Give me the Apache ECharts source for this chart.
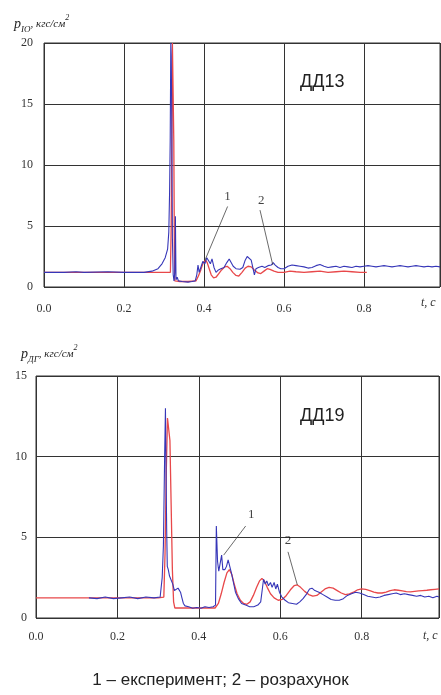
<!DOCTYPE html>
<html>
<head>
<meta charset="utf-8">
<script src="https://cdn.jsdelivr.net/npm/echarts@6/dist/echarts.min.js"></script>
<style>html,body{margin:0;padding:0;background:#fff;}#c{width:441px;height:695px;}</style>
</head>
<body>
<div id="c"></div>
<script>
// ---- data: top chart (ДД13) ----
var topExpT = [0.00,0.05,0.08,0.10,0.16,0.20,0.25,0.27,0.285,0.295,0.303,0.309,0.312,0.314,0.3155,0.317,0.318,0.3195,0.321,0.323,0.325,0.327,0.3285,0.330,0.333,0.336,0.345,0.36,0.37,0.378,0.382,0.385,0.388,0.392,0.397,0.402,0.407,0.412,0.416,0.42,0.425,0.43,0.436,0.442,0.45,0.457,0.463,0.468,0.473,0.48,0.49,0.497,0.503,0.508,0.513,0.518,0.522,0.526,0.53,0.536,0.545,0.552,0.56,0.568,0.573,0.578,0.585,0.592,0.60,0.61,0.62,0.63,0.64,0.65,0.66,0.67,0.68,0.69,0.70,0.71,0.72,0.73,0.74,0.75,0.76,0.77,0.78,0.79,0.80,0.81,0.82,0.83,0.84,0.85,0.86,0.87,0.88,0.89,0.90,0.91,0.92,0.93,0.94,0.95,0.96,0.97,0.98,0.99];
var topExpP = [1.2,1.2,1.25,1.2,1.25,1.2,1.2,1.3,1.5,1.9,2.4,3.1,4.5,7.8,12,20,19,14,4,1.0,0.5,1.2,5.8,0.6,0.8,0.5,0.45,0.4,0.45,0.5,1.0,1.8,1.2,1.6,2.1,1.9,2.4,2.5,1.9,2.3,1.6,1.2,1.4,1.5,1.6,2.0,2.3,2.2,1.7,1.5,1.45,1.6,2.2,2.5,2.6,2.2,1.6,1.0,1.5,1.6,1.7,1.6,1.75,1.8,2.0,1.8,1.6,1.5,1.5,1.7,1.8,1.75,1.7,1.65,1.55,1.6,1.75,1.85,1.7,1.6,1.65,1.7,1.6,1.7,1.65,1.6,1.7,1.65,1.7,1.75,1.7,1.65,1.7,1.75,1.7,1.65,1.7,1.75,1.7,1.65,1.7,1.75,1.7,1.65,1.7,1.65,1.7,1.65];
var topCalcT = [0,0.30,0.316,0.318,0.3195,0.321,0.323,0.3245,0.326,0.327,0.34,0.36,0.38,0.386,0.392,0.398,0.404,0.408,0.413,0.418,0.424,0.43,0.437,0.444,0.452,0.458,0.465,0.472,0.48,0.487,0.495,0.503,0.51,0.518,0.526,0.535,0.542,0.55,0.558,0.565,0.575,0.585,0.60,0.615,0.63,0.65,0.67,0.69,0.71,0.73,0.75,0.77,0.79,0.807];
var topCalcP = [1.2,1.2,1.2,5,12,20,20,12,3,0.5,0.45,0.45,0.5,0.9,1.4,2.0,2.2,2.0,1.5,1.0,0.75,0.8,1.1,1.4,1.65,1.7,1.5,1.2,0.95,0.9,1.2,1.55,1.7,1.65,1.4,1.15,1.1,1.3,1.5,1.45,1.3,1.2,1.2,1.3,1.25,1.2,1.25,1.3,1.2,1.25,1.3,1.25,1.2,1.2];

// ---- data: bottom chart (ДД19) ----
var botExpT = [0.13,0.15,0.17,0.19,0.21,0.23,0.25,0.27,0.29,0.305,0.31,0.313,0.316,0.318,0.3195,0.321,0.3225,0.325,0.328,0.332,0.336,0.34,0.344,0.349,0.352,0.355,0.358,0.362,0.366,0.375,0.385,0.395,0.405,0.415,0.425,0.435,0.441,0.443,0.446,0.449,0.453,0.456,0.459,0.464,0.468,0.472,0.476,0.48,0.485,0.49,0.497,0.505,0.515,0.525,0.535,0.545,0.552,0.556,0.559,0.563,0.567,0.571,0.576,0.58,0.585,0.589,0.593,0.598,0.604,0.612,0.62,0.63,0.64,0.648,0.656,0.665,0.672,0.678,0.685,0.695,0.705,0.715,0.725,0.735,0.745,0.755,0.765,0.775,0.785,0.795,0.805,0.815,0.825,0.835,0.845,0.855,0.865,0.875,0.885,0.895,0.905,0.915,0.925,0.935,0.945,0.955,0.965,0.975,0.985,0.99];
var botExpP = [1.25,1.2,1.3,1.2,1.25,1.3,1.2,1.3,1.25,1.3,2.5,4.5,10,13.0,9,5.5,3.2,3.0,2.6,2.6,2.1,1.7,1.6,1.85,1.95,1.6,1.3,0.9,0.75,0.7,0.6,0.65,0.6,0.7,0.65,0.7,0.8,5.7,3.5,2.9,3.0,3.9,3.0,3.0,3.2,3.6,3.2,2.8,2.2,1.6,1.2,0.9,0.8,0.7,0.7,0.8,1.0,1.8,2.4,2.1,2.3,2.0,2.2,1.9,2.2,1.8,2.1,1.6,1.3,1.1,0.95,0.9,0.85,1.0,1.2,1.5,1.8,1.85,1.7,1.6,1.45,1.3,1.15,1.1,1.1,1.2,1.4,1.5,1.6,1.55,1.45,1.35,1.3,1.25,1.3,1.4,1.45,1.5,1.55,1.45,1.5,1.45,1.4,1.35,1.4,1.3,1.35,1.25,1.35,1.3];
var botCalcT = [0,0.30,0.314,0.317,0.32,0.323,0.326,0.329,0.332,0.335,0.338,0.341,0.36,0.40,0.44,0.448,0.455,0.462,0.469,0.475,0.481,0.487,0.494,0.502,0.51,0.518,0.526,0.534,0.542,0.549,0.555,0.561,0.568,0.576,0.585,0.595,0.605,0.615,0.625,0.634,0.642,0.65,0.66,0.67,0.68,0.69,0.70,0.71,0.72,0.73,0.74,0.75,0.76,0.77,0.78,0.79,0.80,0.81,0.82,0.83,0.84,0.85,0.86,0.87,0.88,0.89,0.90,0.91,0.92,0.93,0.94,0.95,0.96,0.97,0.98,0.99];
var botCalcP = [1.25,1.25,1.3,4,9,12.4,12.4,11,7,3,1.0,0.62,0.62,0.62,0.62,0.9,1.5,2.2,2.8,3.0,2.7,2.1,1.5,1.1,0.9,0.85,1.0,1.4,1.9,2.3,2.45,2.3,1.9,1.5,1.25,1.1,1.15,1.4,1.75,2.0,2.05,1.9,1.65,1.45,1.35,1.4,1.6,1.8,1.9,1.85,1.7,1.55,1.45,1.5,1.6,1.75,1.8,1.78,1.7,1.6,1.55,1.55,1.6,1.7,1.75,1.72,1.68,1.63,1.62,1.65,1.68,1.7,1.72,1.75,1.78,1.8];

// tick settings
var xTicks = { min: 0, max: 0.99, interval: 0.2 };
var yTopTicks = { min: 0, max: 20, interval: 5 };
var yBotTicks = { min: 0, max: 15, interval: 5 };

// annotation labels & leader lines (data coords)
var annotTopLabels = [[0.459, 7.4, '1'], [0.543, 7.1, '2']];
var annotTopLines = [[[0.459, 6.6], [0.4025, 2.2]], [[0.54, 6.3], [0.572, 1.8]]];
var annotBotLabels = [[0.529, 6.4, '1'], [0.619, 4.8, '2']];
var annotBotLines = [[[0.515, 5.7], [0.461, 3.9]], [[0.619, 4.1], [0.642, 2.05]]];

function zip(t, p) { return t.map(function (v, i) { return [v, p[i]]; }); }

var BLUE = '#3636b8', RED = '#e8484a', GRIDC = '#333';
var serif = 'Liberation Serif';

function xAxis(gi, margin) {
  return {
    type: 'value', gridIndex: gi, min: xTicks.min, max: xTicks.max, interval: xTicks.interval,
    axisLine: { show: false }, axisTick: { show: false },
    splitLine: { show: true, lineStyle: { color: GRIDC, width: 1 } },
    axisLabel: { margin: margin, fontFamily: serif, fontSize: 12, color: '#333', showMaxLabel: false,
      formatter: function (v) { return Math.abs(v - 0.99) < 1e-6 ? '' : v.toFixed(1); } }
  };
}
function yAxis(gi, t, margin) {
  return {
    type: 'value', gridIndex: gi, min: t.min, max: t.max, interval: t.interval,
    axisLine: { show: false }, axisTick: { show: false },
    splitLine: { show: true, lineStyle: { color: GRIDC, width: 1 } },
    axisLabel: { margin: margin, fontFamily: serif, fontSize: 12, color: '#333' }
  };
}
function lineSeries(gi, data, color, w, z) {
  return { type: 'line', xAxisIndex: gi, yAxisIndex: gi, data: data, showSymbol: false, symbol: 'none',
    lineStyle: { color: color, width: w }, z: z, animation: false, silent: true };
}
function leader(gi, seg) {
  return { type: 'line', xAxisIndex: gi, yAxisIndex: gi, data: seg, symbol: 'none',
    lineStyle: { color: '#444', width: 0.8 }, z: 5, animation: false, silent: true };
}
function labels(gi, arr) {
  return { type: 'scatter', xAxisIndex: gi, yAxisIndex: gi, symbolSize: 0, z: 6, animation: false, silent: true,
    data: arr.map(function (a) { return { value: [a[0], a[1]], name: a[2] }; }),
    label: { show: true, position: 'inside', formatter: '{b}', fontFamily: serif, fontSize: 13, color: '#111' } };
}

var series = [
  lineSeries(0, zip(topCalcT, topCalcP), RED, 1.3, 2),
  lineSeries(0, zip(topExpT, topExpP), BLUE, 1.1, 3),
  lineSeries(1, zip(botCalcT, botCalcP), RED, 1.3, 2),
  lineSeries(1, zip(botExpT, botExpP), BLUE, 1.1, 3),
  labels(0, annotTopLabels),
  labels(1, annotBotLabels)
];
annotTopLines.forEach(function (s) { series.push(leader(0, s)); });
annotBotLines.forEach(function (s) { series.push(leader(1, s)); });

function axisName(x, y, sub) {
  return { type: 'text', left: x, top: y, style: {
    text: '{p|p}{s|' + sub + '}{t|, кгс/см}{u|2}',
    rich: {
      p: { fontFamily: serif, fontStyle: 'italic', fontSize: 14, fill: '#222', lineHeight: 20, verticalAlign: 'middle' },
      s: { fontFamily: serif, fontStyle: 'italic', fontSize: 9, fill: '#222', lineHeight: 20, verticalAlign: 'bottom' },
      t: { fontFamily: serif, fontStyle: 'italic', fontSize: 11, fill: '#222', lineHeight: 20, verticalAlign: 'middle' },
      u: { fontFamily: serif, fontStyle: 'italic', fontSize: 8, fill: '#222', lineHeight: 20, verticalAlign: 'top' }
    } } };
}

var option = {
  backgroundColor: '#fff',
  animation: false,
  grid: [
    { left: 44, top: 43, width: 396, height: 244, show: true, borderColor: GRIDC, borderWidth: 1, backgroundColor: 'transparent' },
    { left: 36, top: 376, width: 403, height: 242, show: true, borderColor: GRIDC, borderWidth: 1, backgroundColor: 'transparent' }
  ],
  xAxis: [xAxis(0, 16), xAxis(1, 13)],
  yAxis: [yAxis(0, yTopTicks, 11), yAxis(1, yBotTicks, 9)],
  series: series,
  graphic: [
    axisName(14, 14, 'IO'),
    axisName(21, 344, 'ДГ'),
    { type: 'text', left: 300, top: 73, style: { text: 'ДД13', fontFamily: 'Liberation Sans', fontSize: 18, fill: '#222' } },
    { type: 'text', left: 300, top: 407, style: { text: 'ДД19', fontFamily: 'Liberation Sans', fontSize: 18, fill: '#222' } },
    { type: 'text', left: 421, top: 297, style: { text: 't, c', fontFamily: serif, fontStyle: 'italic', fontSize: 12, fill: '#333' } },
    { type: 'text', left: 423, top: 630, style: { text: 't, c', fontFamily: serif, fontStyle: 'italic', fontSize: 12, fill: '#333' } },
    { type: 'text', left: 'center', top: 672, style: { text: '1 – експеримент; 2 – розрахунок', fontFamily: 'Liberation Sans', fontSize: 17, fill: '#222' } }
  ]
};

echarts.init(document.getElementById('c'), null, { renderer: 'canvas' }).setOption(option);
</script>
</body>
</html>
